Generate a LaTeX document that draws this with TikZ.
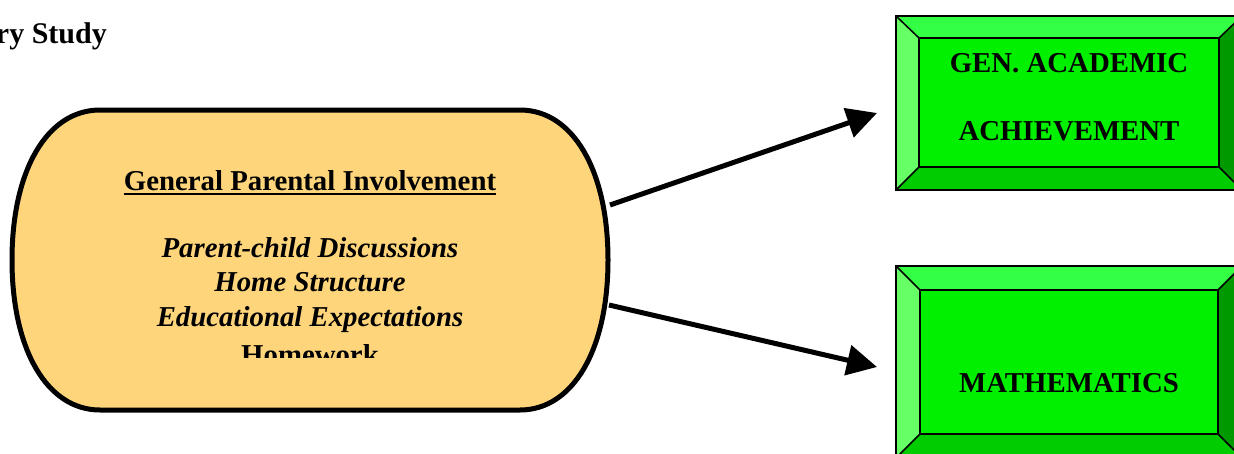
\documentclass[tikz,border=0pt]{standalone}
\usepackage{fontspec}
\setmainfont{Liberation Serif}
\usetikzlibrary{arrows.meta}
\definecolor{ovalfill}{RGB}{254,213,122}
\definecolor{gmid}{RGB}{0,240,0}
\definecolor{gtop}{RGB}{51,255,68}
\definecolor{gleft}{RGB}{102,255,102}
\definecolor{gbot}{RGB}{0,204,0}
\definecolor{gright}{RGB}{0,153,0}
\tikzset{
  bigfont/.style={font=\fontsize{28.8}{34}\selectfont\bfseries},
  txt/.style={bigfont, inner sep=0pt, anchor=base},
  itxt/.style={txt, font=\fontsize{28.8}{34}\selectfont\bfseries\itshape},
  outerbox/.style={rectangle, inner sep=0pt, minimum width=346pt},
  innerbox/.style={rectangle, inner sep=0pt},
  bevel/.style={line width=1.5pt, line join=miter},
  arr/.style={line width=5pt, -{Triangle[length=30pt,width=30pt]}},
}
\begin{document}
\begin{tikzpicture}[x=1pt,y=1pt]
\useasboundingbox (0,0) rectangle (1234,-453);
\clip (0,0) rectangle (1234,-453);

% title (cut at the left)
\node[txt, anchor=base east, font=\fontsize{30}{34}\selectfont\bfseries] (title) at (107,-43) {ry Study};

% oval
\draw[line width=5pt, fill=ovalfill]
  (100,-110) -- (520,-110)
  .. controls (572.8,-110) and (608,-170) .. (608,-260)
  .. controls (608,-350) and (572.8,-410) .. (520,-410)
  -- (100,-410)
  .. controls (47.2,-410) and (12,-350) .. (12,-260)
  .. controls (12,-170) and (47.2,-110) .. (100,-110) -- cycle;

\node[txt] (t0) at (310,-190) {General Parental Involvement};
\draw[line width=2.5pt] ([yshift=-4pt]t0.base west) -- ([yshift=-4pt]t0.base east);
\node[itxt] (t1) at (310,-257) {Parent-child Discussions};
\node[itxt] (t2) at (310,-291) {Home Structure};
\node[itxt] (t3) at (310,-326) {Educational Expectations};
\begin{scope}
  \clip (0,0) rectangle (620,-357.5);
  \node[txt] (t4) at (310,-364) {Homework};
\end{scope}

% box 1
\node[outerbox, minimum height=174pt] (g1) at (1069,-103) {};
\node[innerbox, minimum width=300pt, minimum height=129pt] (g1in) at (1069,-102.5) {};
\fill[gtop] (g1.north west) -- (g1.north east) -- (g1in.north east) -- (g1in.north west) -- cycle;
\fill[gleft] (g1.north west) -- (g1in.north west) -- (g1in.south west) -- (g1.south west) -- cycle;
\fill[gbot] (g1.south west) -- (g1in.south west) -- (g1in.south east) -- (g1.south east) -- cycle;
\fill[gright] (g1.north east) -- (g1in.north east) -- (g1in.south east) -- (g1.south east) -- cycle;
\fill[gmid] (g1in.north west) rectangle (g1in.south east);
\draw[bevel] (g1.north west) rectangle (g1.south east);
\draw[bevel] (g1in.north west) rectangle (g1in.south east);
\draw[bevel] (g1.north west) -- (g1in.north west);
\draw[bevel] (g1.south west) -- (g1in.south west);
\draw[bevel] (g1.north east) -- (g1in.north east);
\draw[bevel] (g1.south east) -- (g1in.south east);
\node[txt] (b1a) at (1069,-72) {GEN. ACADEMIC};
\node[txt] (b1b) at (1069,-140) {ACHIEVEMENT};

% box 2
\node[outerbox, minimum height=192pt] (g2) at (1069,-362) {};
\node[innerbox, minimum width=298pt, minimum height=144pt] (g2in) at (1069,-362) {};
\fill[gtop] (g2.north west) -- (g2.north east) -- (g2in.north east) -- (g2in.north west) -- cycle;
\fill[gleft] (g2.north west) -- (g2in.north west) -- (g2in.south west) -- (g2.south west) -- cycle;
\fill[gbot] (g2.south west) -- (g2in.south west) -- (g2in.south east) -- (g2.south east) -- cycle;
\fill[gright] (g2.north east) -- (g2in.north east) -- (g2in.south east) -- (g2.south east) -- cycle;
\fill[gmid] (g2in.north west) rectangle (g2in.south east);
\draw[bevel] (g2.north west) rectangle (g2.south east);
\draw[bevel] (g2in.north west) rectangle (g2in.south east);
\draw[bevel] (g2.north west) -- (g2in.north west);
\draw[bevel] (g2.south west) -- (g2in.south west);
\draw[bevel] (g2.north east) -- (g2in.north east);
\draw[bevel] (g2.south east) -- (g2in.south east);
\node[txt] (b2) at (1069,-392) {MATHEMATICS};

% arrows
\coordinate (s1) at (610,-205);
\coordinate (e1) at (877,-113);
\coordinate (s2) at (609,-305);
\coordinate (e2) at (877,-367);
\draw[arr] (s1) -- (e1);
\draw[arr] (s2) -- (e2);
\end{tikzpicture}
\end{document}
